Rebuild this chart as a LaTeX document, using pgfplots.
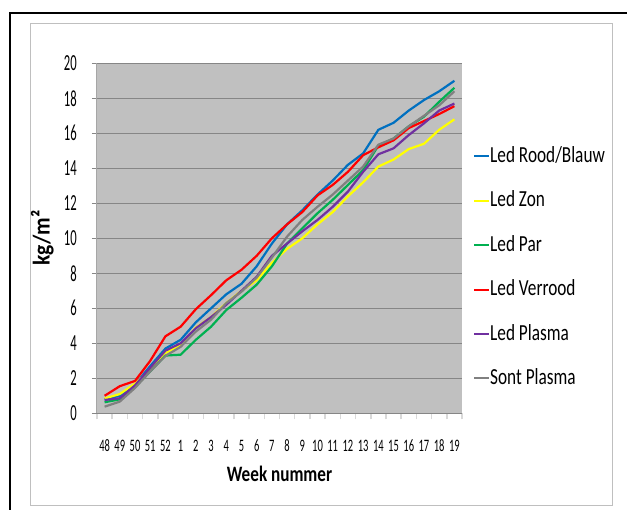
\documentclass[border=0pt]{standalone}
\usepackage{pgfplots}
\usepackage{pgfplotstable}
\pgfplotsset{compat=1.18}
\usepackage{fontspec}
\setmainfont{Carlito}
\newfontfamily\ytickfont[FakeStretch=0.55]{Carlito}
\newfontfamily\xtickfont[FakeStretch=0.6]{Carlito}
\newfontfamily\labelfont[FakeStretch=0.78]{Carlito}
\newfontfamily\ylabfont[FakeStretch=0.9]{Carlito}
\newfontfamily\legfont[FakeStretch=0.75]{Carlito}

\definecolor{rbblue}{HTML}{0070C0}
\definecolor{zonyellow}{HTML}{FFFF00}
\definecolor{pargreen}{HTML}{00B050}
\definecolor{vrred}{HTML}{FF0000}
\definecolor{plpurple}{HTML}{7030A0}
\definecolor{sontgray}{HTML}{808080}
\definecolor{plotgray}{HTML}{C0C0C0}
\definecolor{gridgray}{HTML}{868686}
\definecolor{edgegray}{HTML}{A6A6A6}
\definecolor{tickgray}{HTML}{D9D9D9}
\definecolor{framegray}{HTML}{BFBFBF}

% Yield per week (kg/m2); i = 0 is week 48, i = 23 is week 19
\pgfplotstableread{
i  rb    zon   par   verrood plasma sont
0  0.80  0.85  0.63  1.00    0.76   0.38
1  1.00  1.10  0.80  1.55    0.86   0.67
2  1.65  1.70  1.50  1.85    1.60   1.45
3  2.70  2.50  2.40  3.00    2.60   2.40
4  3.70  3.45  3.30  4.40    3.58   3.28
5  4.20  3.90  3.35  4.95    4.00   3.80
6  5.20  4.90  4.20  5.95    4.86   4.67
7  6.00  5.50  4.95  6.75    5.50   5.35
8  6.80  6.30  5.90  7.60    6.20   6.30
9  7.40  7.00  6.60  8.20    7.00   6.95
10 8.40  7.60  7.35  9.00    7.80   7.75
11 9.70  8.60  8.40  10.00   9.00   8.90
12 10.80 9.40  9.70  10.80   9.70   10.10
13 11.60 10.00 10.57 11.50   10.40  11.05
14 12.50 10.80 11.43 12.45   11.05  11.80
15 13.30 11.50 12.20 13.05   11.80  12.50
16 14.20 12.40 13.05 13.80   12.67  13.30
17 14.85 13.20 13.90 14.75   13.80  14.10
18 16.20 14.10 15.30 15.20   14.80  15.35
19 16.60 14.50 15.70 15.60   15.14  15.70
20 17.30 15.10 16.40 16.30   15.90  16.40
21 17.90 15.40 16.95 16.70   16.57  17.00
22 18.40 16.20 17.80 17.10   17.30  17.60
23 19.00 16.80 18.60 17.55   17.70  18.40
}\weekdata

\begin{document}
\begin{tikzpicture}
\useasboundingbox (0bp,0bp) rectangle (627bp,510bp);
\fill[white] (0bp,0bp) rectangle (627bp,510bp);
% chart frames
\draw[black, line width=2bp] (10bp,-10bp) -- (10bp,497bp) -- (640bp,497bp);
\draw[framegray, line width=0.8bp] (30bp,5bp) rectangle (612bp,487bp);

\begin{axis}[
  at={(97bp,96.7bp)}, anchor=south west,
  scale only axis, width=365bp, height=350bp,
  xmin=-0.5, xmax=23.5, ymin=0, ymax=20,
  axis background/.style={fill=plotgray},
  axis x line*=bottom, axis y line*=left,
  every outer x axis line/.append style={-},
  every outer y axis line/.append style={-},
  x axis line style={draw=gridgray, line width=1.2bp},
  y axis line style={draw=edgegray, line width=1bp},
  ytick={0,2,...,20},
  yticklabels={0,2,4,6,8,10,12,14,16,18,20},
  xtick={0,...,23},
  xticklabels={48,49,50,51,52,1,2,3,4,5,6,7,8,9,10,11,12,13,14,15,16,17,18,19},
  minor xtick={-0.5,0.5,...,23.5},
  tick align=outside,
  major tick length=5bp, minor tick length=6bp,
  xtick style={draw=none},
  minor x tick style={draw=tickgray, line width=1.5bp},
  ytick style={draw=gridgray, line width=1bp},
  ymajorgrids,
  major grid style={draw=gridgray, line width=1.2bp},
  yticklabel style={font=\ytickfont\fontsize{23bp}{23bp}\selectfont, anchor=east, inner sep=0pt, xshift=-15bp},
  xticklabel style={font=\xtickfont\fontsize{17.5bp}{18bp}\selectfont, anchor=base, inner sep=0pt, yshift=-33bp},
  xlabel={Week nummer},
  xlabel style={font=\labelfont\bfseries\fontsize{22bp}{22bp}\selectfont, at={(axis description cs:0.5,-0.194)}, anchor=base, inner sep=0pt},
  ylabel={kg/m²},
  ylabel style={font=\ylabfont\bfseries\fontsize{24bp}{24bp}\selectfont, at={(axis description cs:-0.15,0.5)}, anchor=center, inner sep=0pt},
  legend style={at={(axis description cs:1,1)}, anchor=north west, xshift=11bp, yshift=-82bp,
    draw=none, fill=none, inner sep=0pt, row sep=22.4bp,
    font=\legfont\fontsize{23bp}{23bp}\selectfont,
    nodes={inner sep=0pt, text height=17bp, text depth=5bp, anchor=west},
    /tikz/every even column/.append style={column sep=1bp}},
  legend cell align=left,
  legend image code/.code={\draw[#1, line width=2bp] (0bp,0bp) -- (15bp,0bp);},
  every axis plot/.append style={line width=2.2bp, no marks, line join=round},
]
\addplot[rbblue]     table[x=i, y=rb]      {\weekdata};
\addplot[zonyellow]  table[x=i, y=zon]     {\weekdata};
\addplot[pargreen]   table[x=i, y=par]     {\weekdata};
\addplot[vrred]      table[x=i, y=verrood] {\weekdata};
\addplot[plpurple]   table[x=i, y=plasma]  {\weekdata};
\addplot[sontgray]   table[x=i, y=sont]    {\weekdata};
\legend{Led Rood/Blauw, Led Zon, Led Par, Led Verrood, Led Plasma, Sont Plasma}
\end{axis}
\end{tikzpicture}
\end{document}
